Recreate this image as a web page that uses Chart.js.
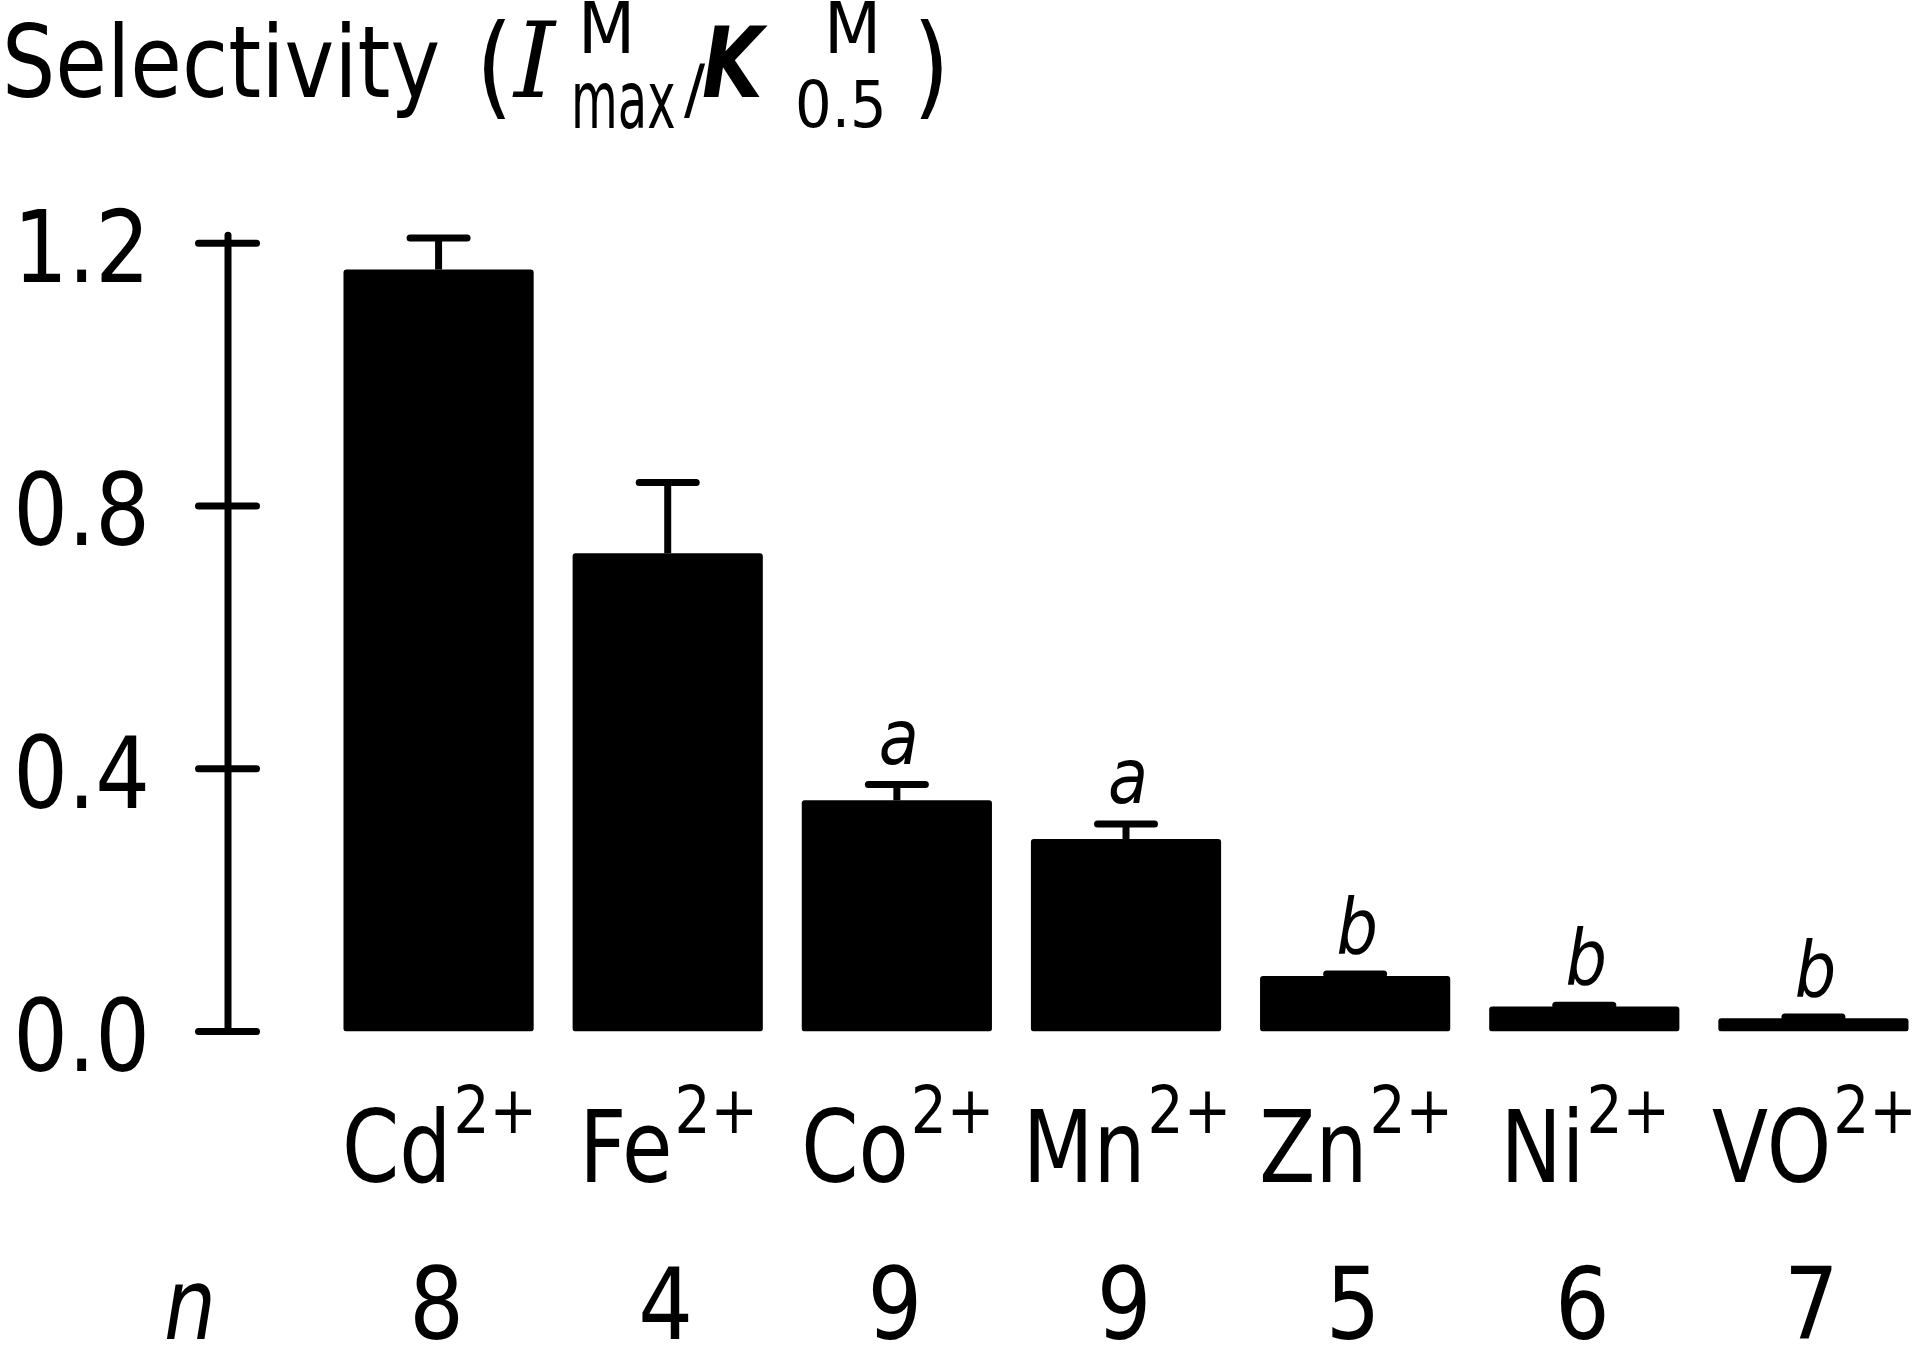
<!DOCTYPE html>
<html>
<head>
<meta charset="utf-8">
<script src="https://cdn.jsdelivr.net/npm/chart.js@4.4.1/dist/chart.umd.min.js"></script>
<style>
  html, body { margin: 0; padding: 0; background: #ffffff; overflow: hidden; }
  canvas { display: block; }
</style>
</head>
<body>
<canvas id="c" width="1928" height="1346" style="width:1928px;height:1346px"></canvas>
<script>
// ---- data ----
const categories   = ['Cd', 'Fe', 'Co', 'Mn', 'Zn', 'Ni', 'VO'];
const charges      = ['2+', '2+', '2+', '2+', '2+', '2+', '2+'];
const selectivity  = [1.16, 0.728, 0.352, 0.293, 0.0845, 0.038, 0.020];
const sem          = [0.048, 0.108, 0.024, 0.023, 0.003, 0.002, 0.002];
const nValues      = [8, 4, 9, 9, 5, 6, 7];
const sigLetters   = ['', '', 'a', 'a', 'b', 'b', 'b'];
const yTicks       = [0, 0.4, 0.8, 1.2];
const yTickLabels  = ['0.0', '0.4', '0.8', '1.2'];
const nRowLabel    = 'n';

// ---- styling ----
const SANS = '"DejaVu Sans", sans-serif';
const SERIF = '"DejaVu Serif", serif';

function txt(ctx, s, x, y, font, sx, align) {
  ctx.save();
  ctx.font = font;
  ctx.textBaseline = 'alphabetic';
  ctx.textAlign = 'left';
  const w = ctx.measureText(s).width * sx;
  let x0 = x;
  if (align === 'center') x0 = x - w / 2;
  else if (align === 'right') x0 = x - w;
  ctx.translate(x0, y);
  ctx.scale(sx, 1);
  ctx.fillStyle = '#000';
  ctx.fillText(s, 0, 0);
  ctx.restore();
  return w;
}
function measure(ctx, s, font, sx) {
  ctx.save(); ctx.font = font;
  const w = ctx.measureText(s).width * sx;
  ctx.restore();
  return w;
}

const decorPlugin = {
  id: 'decor',
  afterDatasetsDraw(chart) {
    const ctx = chart.ctx;
    const xs = chart.scales.x, ys = chart.scales.y;
    ctx.save();
    ctx.strokeStyle = '#000';
    ctx.lineWidth = 7;
    // error bars + significance letters
    selectivity.forEach((v, i) => {
      const cx = xs.getPixelForValue(i);
      const yTop = ys.getPixelForValue(v);
      const yErr = ys.getPixelForValue(v + sem[i]);
      ctx.lineCap = 'butt';
      ctx.beginPath(); ctx.moveTo(cx, yTop); ctx.lineTo(cx, yErr); ctx.stroke();
      ctx.lineCap = 'round';
      ctx.beginPath(); ctx.moveTo(cx - 28.5, yErr); ctx.lineTo(cx + 28.5, yErr); ctx.stroke();
      if (sigLetters[i]) {
        txt(ctx, sigLetters[i], cx + 2, yErr - 21, 'italic 76px ' + SANS, 0.86, 'center');
      }
    });
    ctx.restore();
  },
  afterDraw(chart) {
    const ctx = chart.ctx;
    const xs = chart.scales.x, ys = chart.scales.y;
    ctx.save();
    ctx.strokeStyle = '#000';
    ctx.fillStyle = '#000';
    // y axis line
    const axisX = 228;
    ctx.lineWidth = 7;
    ctx.lineCap = 'round';
    ctx.beginPath();
    ctx.moveTo(axisX, ys.getPixelForValue(yTicks[yTicks.length - 1]) - 8);
    ctx.lineTo(axisX, ys.getPixelForValue(yTicks[0]));
    ctx.stroke();
    // ticks crossing the axis + labels
    yTicks.forEach((t, k) => {
      const py = ys.getPixelForValue(t);
      ctx.beginPath(); ctx.moveTo(axisX - 29.5, py); ctx.lineTo(axisX + 28.5, py); ctx.stroke();
      txt(ctx, yTickLabels[k], 150, py + 39, '100px ' + SANS, 0.86, 'right');
    });
    // category labels with superscripts, n row
    const baseFont = '100px ' + SANS, supFont = '66px ' + SANS;
    categories.forEach((c, i) => {
      const cx = xs.getPixelForValue(i);
      const wb = measure(ctx, c, baseFont, 0.82);
      const wsup = measure(ctx, charges[i], supFont, 0.86);
      const x0 = cx - (wb + wsup) / 2;
      txt(ctx, c, x0, 1182, baseFont, 0.82, 'left');
      txt(ctx, charges[i], x0 + wb + 2, 1133, supFont, 0.86, 'left');
      txt(ctx, String(nValues[i]), cx - 2, 1339, baseFont, 0.86, 'center');
    });
    txt(ctx, nRowLabel, 190, 1339, 'italic 100px ' + SANS, 0.82, 'center');

    // y title: Selectivity ( I^M_max / K^M_0.5 )
    txt(ctx, 'Selectivity', 2, 97, '100px ' + SANS, 0.84, 'left');
    txt(ctx, '(', 476, 104, '112px ' + SANS, 0.84, 'left');
    txt(ctx, 'I', 514, 97, 'italic 104px ' + SERIF, 1.0, 'left');
    txt(ctx, 'M', 578, 53, '72px ' + SANS, 0.92, 'left');
    txt(ctx, 'max', 571, 128, '80px ' + SANS, 0.6, 'left');
    txt(ctx, '/', 684, 112, '66px ' + SANS, 0.95, 'left');
    txt(ctx, 'K', 702, 97, 'italic bold 98px ' + SANS, 0.8, 'left');
    txt(ctx, 'M', 824, 53, '72px ' + SANS, 0.92, 'left');
    txt(ctx, '0.5', 795, 127, '64px ' + SANS, 0.9, 'left');
    txt(ctx, ')', 913, 104, '112px ' + SANS, 0.84, 'left');
    ctx.restore();
  }
};

new Chart(document.getElementById('c'), {
  type: 'bar',
  data: {
    labels: categories,
    datasets: [{
      data: selectivity,
      backgroundColor: '#000000',
      borderWidth: 0,
      borderRadius: 3,
      borderSkipped: false,
      barPercentage: 0.83,
      categoryPercentage: 1.0
    }]
  },
  options: {
    responsive: false,
    animation: false,
    devicePixelRatio: 1,
    events: [],
    layout: { padding: { left: 324, right: 0, top: 243.3, bottom: 314.5 } },
    plugins: { legend: { display: false }, tooltip: { enabled: false }, title: { display: false } },
    scales: {
      x: { display: false },
      y: { display: false, min: 0, max: 1.2 }
    }
  },
  plugins: [decorPlugin]
});
</script>
</body>
</html>
